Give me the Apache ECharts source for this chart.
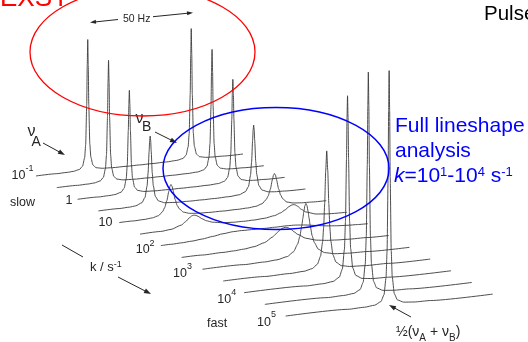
<!DOCTYPE html>
<html><head><meta charset="utf-8">
<script src="https://cdn.jsdelivr.net/npm/echarts@6/dist/echarts.min.js"></script>
<style>html,body{margin:0;padding:0;background:#fff;}#c{width:528px;height:342px;}</style>
</head><body><div id="c"></div>
<script>
// ---------------- DATA ----------------
// exchange rate of each trace, log10(k / s^-1), back to front
const kExponents = [-1, -0.5, 0, 0.5, 1, 1.5, 2, 2.5, 3, 3.5, 4, 4.5, 5];
// tick labels written on every other trace
const kTickBase = ['10', '1', '10', '10', '10', '10', '10'];
const kTickExp  = ['-1', '', '', '2', '3', '4', '5'];
// each spectrum: [frequency / Hz, intensity (slow-limit peak = 100)]
const s0 = [[0,0.04],[10,0.11],[15,0.25],[18,0.51],[21,1.5],[22.5,3.8],[23.5,10],[24,20],[24.5,50],[24.75,80],[25,100],[25.25,80],[25.5,50],[26,20],[26.5,10],[27.5,3.8],[29,1.5],[32,0.55],[37,0.2],[44,0.1],[50,0.08],[56,0.1],[63,0.2],[68,0.55],[71,1.5],[72.5,3.8],[73.5,10],[74,20],[74.5,50],[74.75,80],[75,100],[75.25,80],[75.5,50],[76,20],[76.5,10],[77.5,3.8],[79,1.5],[82,0.51],[85,0.25],[90,0.11],[100,0.04]];
const s1 = [[0,0.04],[10,0.12],[15,0.27],[18,0.55],[21,1.66],[22.5,4.15],[23.5,10.7],[24,21],[24.5,50],[24.75,76.6],[25,93],[25.25,76.6],[25.5,50],[26,21],[26.5,10.7],[27.5,4.15],[29,1.7],[32,0.6],[37,0.22],[44,0.12],[50,0.09],[56,0.12],[63,0.22],[68,0.6],[71,1.7],[72.5,4.15],[73.5,10.7],[74,21],[74.5,50],[74.75,76.6],[75,93],[75.25,76.6],[75.5,50],[76,21],[76.5,10.7],[77.5,4.15],[79,1.66],[82,0.55],[85,0.27],[90,0.12],[100,0.04]];
const s2 = [[0,0.05],[10,0.14],[15,0.32],[18,0.64],[21,1.94],[22.5,4.8],[23.5,12],[24,22.7],[24.5,48.8],[24.75,68.4],[25,79],[25.25,68.4],[25.5,48.8],[26,22.7],[26.5,12],[27.5,4.8],[29,1.98],[32,0.68],[37,0.26],[44,0.12],[50,0.1],[56,0.12],[63,0.26],[68,0.68],[71,1.98],[72.5,4.8],[73.5,12],[74,22.7],[74.5,48.8],[74.75,68.4],[75,79],[75.25,68.4],[75.5,48.8],[76,22.7],[76.5,12],[77.5,4.8],[79,1.94],[82,0.64],[85,0.32],[90,0.14],[100,0.05]];
const s3 = [[0,0.08],[10,0.21],[15,0.47],[18,0.95],[21,2.8],[22.5,6.6],[23.5,15.1],[24,25],[24.5,41.4],[24.75,49.5],[25,53],[25.25,49.5],[25.5,41.4],[26,25],[26.5,15.1],[27.5,6.6],[29,2.85],[32,1.0],[37,0.4],[44,0.18],[50,0.15],[56,0.18],[63,0.4],[68,1.0],[71,2.85],[72.5,6.6],[73.5,15.1],[74,25],[74.5,41.4],[74.75,49.5],[75,53],[75.25,49.5],[75.5,41.4],[76,25],[76.5,15.1],[77.5,6.6],[79,2.8],[82,0.95],[85,0.47],[90,0.21],[100,0.08]];
const s4 = [[0,0.1],[7,0.2],[12,0.45],[16,1.0],[19,2.2],[21,5.0],[22,8.0],[23,13],[24,20],[24.5,23.7],[25,25],[25.5,23.7],[26,20.4],[27,13.3],[28,8.5],[29,5.8],[31,2.9],[34,1.45],[38,0.85],[43,0.6],[50,0.51],[57,0.6],[62,0.85],[66,1.45],[69,2.9],[71,5.8],[72,8.5],[73,13.3],[74,20.4],[74.5,23.7],[75,25],[75.5,23.7],[76,20],[77,13],[78,8],[79,5],[81,2.2],[84,1.0],[88,0.45],[93,0.2],[100,0.1]];
const s5 = [[0,0.17],[10,0.56],[15,1.3],[20,3.77],[22,6.0],[24,8.85],[25,9.93],[26,10.35],[27,10.0],[28,9.13],[30,6.9],[32,5.09],[35,3.44],[40,2.2],[45,1.73],[50,1.61],[55,1.73],[60,2.2],[65,3.44],[68,5.09],[70,6.9],[72,9.13],[73,10.0],[74,10.35],[75,9.93],[76,8.85],[78,6.0],[80,3.77],[85,1.3],[90,0.56],[100,0.17]];
const s6 = [[0,0.33],[5,0.5],[10,0.77],[15,1.24],[20,2.01],[25,3.14],[30,4.36],[35,5.13],[39,5.28],[45,5.16],[50,5.09],[55,5.16],[61,5.28],[65,5.13],[70,4.36],[75,3.14],[80,2.01],[85,1.24],[90,0.77],[95,0.5],[100,0.33]];
const s7 = [[0,0.22],[10,0.37],[20,0.68],[25,0.99],[30,1.52],[35,2.55],[40,4.8],[44,8.5],[45.5,10.5],[47,12.6],[48.5,14.2],[50,14.9],[51.5,14.2],[53,12.6],[54.5,10.5],[56,8.5],[60,4.8],[65,2.55],[70,1.52],[75,0.99],[80,0.68],[90,0.37],[100,0.22]];
const s8 = [[0,0.1],[20,0.28],[30,0.63],[36,1.26],[41,2.93],[44,6.06],[46,11.6],[47,16.9],[48,25.3],[48.5,30.7],[49,36.1],[49.5,40.3],[50,42],[50.5,40.3],[51,36.1],[51.5,30.7],[52,25.3],[53,16.9],[54,11.6],[56,6.06],[59,2.93],[64,1.26],[70,0.63],[80,0.28],[100,0.1]];
const s9 = [[0,0.05],[20,0.13],[32,0.35],[39,0.93],[43,2.28],[45.5,5.3],[47,11.1],[48,21.7],[48.5,32.6],[49,50.6],[49.5,75.8],[50,91],[50.5,75.8],[51,50.6],[51.5,32.6],[52,21.7],[53,11.1],[54.5,5.3],[57,2.28],[61,0.93],[68,0.35],[80,0.13],[100,0.05]];
const s10 = [[0,0.03],[30,0.17],[38,0.47],[43,1.39],[46,4.16],[47.5,10.2],[48.5,25.1],[49,46.2],[49.5,93.6],[49.75,125.8],[50,142],[50.25,125.8],[50.5,93.6],[51,46.2],[51.5,25.1],[52.5,10.2],[54,4.16],[57,1.39],[62,0.47],[70,0.17],[100,0.03]];
const s11 = [[0,0.02],[30,0.15],[38,0.41],[43,1.19],[46,3.6],[47.5,8.96],[48.5,22.6],[49,43.7],[49.5,98.4],[49.75,143],[50,169],[50.25,143],[50.5,98.4],[51,43.7],[51.5,22.6],[52.5,8.96],[54,3.6],[57,1.19],[62,0.41],[70,0.15],[100,0.02]];
const s12 = [[0,0.02],[30,0.14],[38,0.37],[43,1.1],[46,3.31],[47.5,8.25],[48.5,21.2],[49,41.5],[49.5,97.9],[49.75,148],[50,179],[50.25,148],[50.5,97.9],[51,41.5],[51.5,21.2],[52.5,8.25],[54,3.31],[57,1.1],[62,0.37],[70,0.14],[100,0.02]];
const spectra = [s0, s1, s2, s3, s4, s5, s6, s7, s8, s9, s10, s11, s12];

// ---------------- LAYOUT (oblique stacking of the traces) ----------------
const HZ_STEP = 10.05;     // shift of each trace along the frequency axis
const INT_STEP = -8.91;    // shift of each trace down the intensity axis
const TILT = 0.1675;       // baseline rise per Hz
const BASE0 = 126.7;       // baseline level of the back trace
const FONT = '"Liberation Sans", Arial, sans-serif';
const INK = '#262626';

const series = spectra.map((s, i) => ({
  type: 'line',
  name: 'k=10^' + kExponents[i],
  data: s.map(([f, v]) => [f + i * HZ_STEP, v + BASE0 + i * INT_STEP + TILT * f]),
  symbol: 'none',
  smooth: 0.2,
  smoothMonotone: 'x',
  silent: true,
  clip: false,
  lineStyle: { color: '#3a3a3a', width: 0.9 },
  z: 2
}));

const mctx = document.createElement('canvas').getContext('2d');
function T(x, y, text, fs, color, italic) {
  return { type: 'text', x: x, y: y, z: 10, silent: true,
    style: { text: text, fontSize: fs, fontFamily: FONT, fontStyle: italic ? 'italic' : 'normal',
      fill: color || INK, align: 'left', verticalAlign: 'middle', textAlign: 'left', textVerticalAlign: 'middle' } };
}
function seq(x, list, color) {
  let cx = x; const out = [];
  list.forEach(([t, fs, y, it]) => {
    out.push(T(cx, y, t, fs, color, it));
    mctx.font = (it ? 'italic ' : '') + fs + 'px ' + FONT;
    cx += mctx.measureText(t).width;
  });
  return out;
}
function arrow(x1, y1, x2, y2, len, hw, color) {
  const dx = x2 - x1, dy = y2 - y1, L = Math.hypot(dx, dy), ux = dx / L, uy = dy / L, nx = -uy, ny = ux;
  const bx = x2 - ux * len, by = y2 - uy * len;
  return [
    { type: 'line', z: 10, silent: true, shape: { x1: x1, y1: y1, x2: bx + ux, y2: by + uy }, style: { stroke: color, lineWidth: 1 } },
    { type: 'polygon', z: 10, silent: true, shape: { points: [[x2, y2], [bx + nx * hw, by + ny * hw], [bx - nx * hw, by - ny * hw]] }, style: { fill: color } }
  ];
}

const els = [];
// header texts
els.push(T(0, -1.5, 'EXSY', 26, '#ff0000'));
els.push(T(484, 14.6, 'Pulse', 20.5, '#000'));
// 50 Hz separation
els.push(T(123, 19, '50 Hz', 10.5, INK));
els.push(...arrow(118, 19.5, 90, 22.5, 6, 2, INK));
els.push(...arrow(153, 16.7, 193, 12.7, 6, 2, INK));
// nu_A / nu_B
els.push(T(27.5, 132, 'ν', 16, INK));
els.push(T(31.5, 142, 'A', 14, INK));
els.push(...arrow(43, 143, 65, 155, 7, 2.5, INK));
els.push(T(135.5, 118.5, 'ν', 16, INK));
els.push(T(142, 127.5, 'B', 14, INK));
els.push(...arrow(155, 132, 177, 143, 7, 2.5, INK));
// k tick labels
const tickPos = [[11.5, 175.5, 168.5], [65.5, 200.7, 0], [98.5, 223, 0], [135.7, 250, 243.3], [173, 273.7, 267], [217.3, 299.7, 292.3], [257, 323, 315]];
kTickBase.forEach((b, j) => {
  const [x, y, ye] = tickPos[j];
  els.push(T(x, y, b, 12.5, INK));
  if (kTickExp[j]) {
    mctx.font = '12.5px ' + FONT;
    els.push(T(x + mctx.measureText(b).width, ye, kTickExp[j], 9, INK));
  }
});
els.push(T(10, 202.7, 'slow', 12.5, INK));
els.push(T(207, 323.7, 'fast', 12.5, INK));
// k axis title and arrow
els.push(...seq(90, [['k / s', 13, 267.5], ['-1', 9, 264.5]], INK));
els.push({ type: 'line', z: 10, silent: true, shape: { x1: 62, y1: 245, x2: 83, y2: 257 }, style: { stroke: INK, lineWidth: 1 } });
els.push(...arrow(118, 277, 151, 294, 7, 2.5, INK));
// 1/2(nuA + nuB)
els.push(...seq(396, [['½(ν', 14, 332], ['A', 10, 338.6], [' + ν', 14, 332], ['B', 10, 338.6], [')', 14, 332]], INK));
els.push(...arrow(411, 317, 389, 305, 7, 2.5, INK));
// blue annotation
const BLUE = '#0000ff';
els.push(T(395, 126.2, 'Full lineshape', 21, BLUE));
els.push(T(395, 151.2, 'analysis', 21, BLUE));
els.push(...seq(394, [['k', 21, 176.2, true], ['=10', 21, 176.2], ['1', 13, 172.8], ['-10', 21, 176.2], ['4', 13, 172.8], [' s', 21, 176.2], ['-1', 13, 172.8]], BLUE));
// ellipses
els.push({ type: 'ellipse', z: 12, silent: true, shape: { cx: 142.5, cy: 52, rx: 112.5, ry: 64 }, style: { fill: 'none', stroke: '#ff0000', lineWidth: 1.3 } });
els.push({ type: 'ellipse', z: 12, silent: true, shape: { cx: 276, cy: 168.5, rx: 113, ry: 61 }, style: { fill: 'none', stroke: BLUE, lineWidth: 1.5 } });

const chart = echarts.init(document.getElementById('c'), null, { renderer: 'canvas', width: 528, height: 342 });
chart.setOption({
  animation: false,
  backgroundColor: '#ffffff',
  grid: { left: 0, right: 0, top: 0, bottom: 0, containLabel: false },
  xAxis: { type: 'value', min: -17.39, max: 237.68, show: false },
  yAxis: { type: 'value', min: 0, max: 261.07, show: false },
  series: series,
  graphic: { elements: els }
});
</script></body></html>
